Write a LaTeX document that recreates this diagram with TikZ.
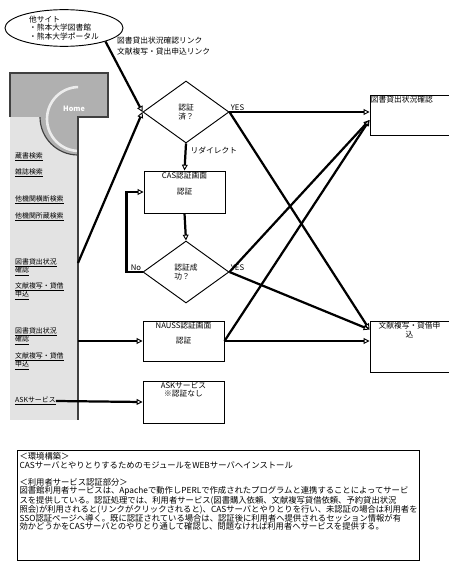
\documentclass[tikz,border=0pt]{standalone}
\usepackage{fontspec}
\newfontfamily\jpfont{Noto Sans CJK JP}
\usetikzlibrary{shapes.geometric,arrows.meta,calc}

\begin{document}
\begin{tikzpicture}[x=0.03cm,y=-0.03cm,
    font=\jpfont\fontsize{6.6}{7.4}\selectfont]
\useasboundingbox (0,0) rectangle (448,563);

% side menu of the web page
\fill[gray!22] (10,117) rectangle (78,420);
\fill[gray!62] (10,73) rectangle (108,117);
\begin{scope}
    \clip (30,80) rectangle (78,160);
    \fill[gray!62] (78,117) circle[radius=38];
    \draw[gray!15,line width=2.2pt] (79,119) circle[radius=32];
\end{scope}
\begin{scope}
    \clip (30,117) rectangle (78,160);
    \draw[black!75,line width=1pt] (78,117) circle[radius=38];
\end{scope}
\draw[black!75,line width=1pt] (10,117) -- (10,73) -- (108,73) -- (108,117) -- (78,117) -- (78,420);
\node[white,font=\jpfont\bfseries\fontsize{6.2}{7}\selectfont] (home) at (74,109) {Home};

\begin{scope}[every node/.style={anchor=west,align=left,inner sep=0pt,
              font=\jpfont\fontsize{5.9}{7.6}\selectfont}]
    \node (menu1) at (15,157) {\underline{蔵書検索}};
    \node (menu2) at (15,173) {\underline{雑誌検索}};
    \node (menu3) at (15,200) {\underline{他機関横断検索}};
    \node (menu4) at (15,217) {\underline{他機関所蔵検索}};
    \node (menu5) at (15,267) {\underline{図書貸出状況}\\\underline{確認}};
    \node (menu6) at (15,291) {\underline{文献複写・貸借}\\\underline{申込}};
    \node (menu7) at (15,336) {\underline{図書貸出状況}\\\underline{確認}};
    \node (menu8) at (15,361) {\underline{文献複写・貸借}\\\underline{申込}};
    \node (menu9) at (15,401) {\underline{ASKサービス}};
\end{scope}
\coordinate (m5) at (78,263);
\coordinate (m7) at (78,341);

% other sites
\node[draw,ellipse,line width=0.8pt,minimum width=3.54cm,minimum height=1.1cm,
      inner sep=0pt,align=left] (site) at (64,28) {他サイト\\・熊本大学図書館\\・熊本大学ポータル};
\node[anchor=north west,align=left,inner sep=0pt] (linklbl) at (117,37)
      {図書貸出状況確認リンク\\[2pt]文献複写・貸出申込リンク};

% flow
\begin{scope}[every node/.style={draw,line width=0.8pt,minimum width=2.43cm,inner sep=1pt}]
    \node[minimum height=1.26cm] (cas) at (184.5,192) {認証};
    \node[minimum height=1.2cm] (nauss) at (183.5,341) {認証};
    \node[minimum height=1.26cm] (ask) at (183.5,402) {};
    \node[minimum width=2.37cm,minimum height=1.2cm] (lend) at (409.5,115) {};
    \node[minimum width=2.37cm,minimum height=1.53cm] (lreq) at (409.5,346.5) {};
\end{scope}
\begin{scope}[every node/.style={draw,diamond,line width=0.8pt,minimum width=2.58cm,
              minimum height=1.86cm,inner sep=0pt,align=left}]
    \node (auth) at (186,112) {認証\\済？};
    \node (ok) at (186,272) {認証成\\功？};
\end{scope}

\begin{scope}[every node/.style={inner sep=1pt}]
    \node[anchor=north] (castitle) at (cas.north) {CAS認証画面};
    \node[anchor=north] (naustitle) at (nauss.north) {NAUSS認証画面};
    \node[anchor=north,align=center] (asktext) at (ask.north) {ASKサービス\\※認証なし};
    \node[anchor=north west] (lendtitle) at (lend.north west) {図書貸出状況確認};
    \node[anchor=north,align=center] (lreqtitle) at (lreq.north) {文献複写・貸借申\\込};
    \node[anchor=south west] (yes1) at (auth.east) {YES};
    \node[anchor=south west] (yes2) at (ok.east) {YES};
    \node[anchor=south east] (no) at (ok.west) {No};
\end{scope}

\begin{scope}[every edge/.style={draw=black,line width=1.9pt,
              -{Triangle[open,length=5pt,width=5pt,line width=0.8pt]}}]
    \path (site.-18) edge (auth.west);
    \path (m5) edge (auth.west);
    \path (auth.south) edge node[right,pos=0.25] {リダイレクト} (cas.north);
    \path (auth.east) edge (auth.east -| lend.west);
    \path (auth.east) edge ($(lreq.north west)+(0,9)$);
    \path (cas.south) edge (ok.north);
    \path (ok.east) edge ($(lend.west)+(0,5)$);
    \path (ok.east) edge ($(lreq.north west)+(0,9)$);
    \path (nauss.east) edge ($(lend.west)+(0,5)$);
    \path (nauss.east) edge (nauss.east -| lreq.west);
    \path (m7) edge (nauss.west);
    \path (menu9.east) edge (ask.west);
\end{scope}
\draw[line width=2.1pt,-{Triangle[open,length=5pt,width=5pt,line width=0.8pt]}]
    (ok.west) -- ++(-16,0) |- (cas.west);

% notes
\node[draw,line width=0.9pt,anchor=north west,minimum width=12.06cm,minimum height=3.3cm] (memo) at (17,450) {};
\node[anchor=north west,align=left,inner sep=2pt,font=\jpfont\fontsize{7.1}{7.4}\selectfont] (memotext) at (memo.north west)
    {＜環境構築＞\\
     CASサーバとやりとりするためのモジュールをWEBサーバへインストール\\[7pt]
     ＜利用者サービス認証部分＞\\
     図書館利用者サービスは、Apacheで動作しPERLで作成されたプログラムと連携することによってサービ\\
     スを提供している。認証処理では、利用者サービス(図書購入依頼、文献複写貸借依頼、予約貸出状況\\
     照会)が利用されると(リンクがクリックされると)、CASサーバとやりとりを行い、未認証の場合は利用者を\\
     SSO認証ページへ導く。既に認証されている場合は、認証後に利用者へ提供されるセッション情報が有\\
     効かどうかをCASサーバとのやりとり通して確認し、問題なければ利用者へサービスを提供する。};
\end{tikzpicture}
\end{document}
